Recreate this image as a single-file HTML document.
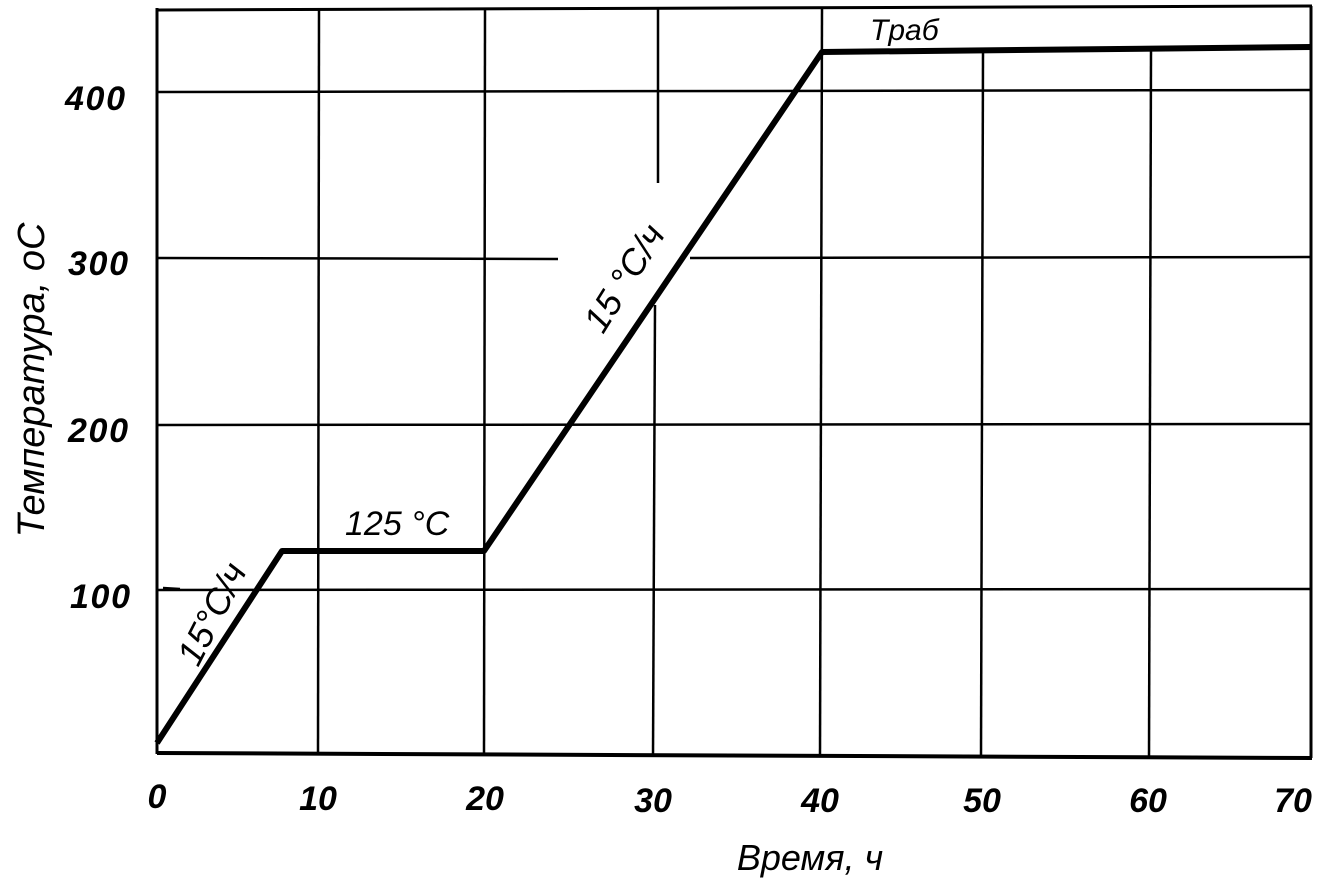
<!DOCTYPE html>
<html><head><meta charset="utf-8"><style>
html,body{margin:0;padding:0;background:#fff;}
svg{display:block;}
text{font-family:"Liberation Sans",sans-serif;font-style:italic;fill:#000;}
</style></head><body>
<svg width="1324" height="889" viewBox="0 0 1324 889" xmlns="http://www.w3.org/2000/svg">
<g stroke="#000" stroke-width="2.5" fill="none">
  <line x1="157" y1="10" x2="1312" y2="6" stroke-width="3"/>
  <line x1="157" y1="8" x2="157" y2="754" stroke-width="3"/>
  <line x1="157" y1="753" x2="1312" y2="758" stroke-width="4"/>
  <line x1="1311" y1="6" x2="1311" y2="758" stroke-width="3"/>
  <line x1="319" y1="9" x2="318" y2="754"/>
  <line x1="485" y1="9" x2="484" y2="755"/>
  <line x1="658" y1="9" x2="658" y2="183"/>
  <line x1="655" y1="305" x2="653" y2="756"/>
  <line x1="822" y1="8" x2="820" y2="756"/>
  <line x1="983" y1="52" x2="981" y2="757"/>
  <line x1="1151" y1="50" x2="1149" y2="757"/>
  <line x1="157" y1="92" x2="1311" y2="90"/>
  <line x1="157" y1="258" x2="558" y2="259"/>
  <line x1="690" y1="258" x2="1311" y2="257"/>
  <line x1="157" y1="425" x2="1311" y2="424"/>
  <line x1="157" y1="590" x2="1311" y2="589"/>
  <line x1="163" y1="588" x2="180" y2="589"/>
</g>
<polyline points="157,743 282,551 484,551 822,52 1311,47" fill="none" stroke="#000" stroke-width="6" stroke-linejoin="round"/>
<g font-size="34" font-weight="bold" stroke="#000" stroke-width="0">
  <text x="125" y="110" text-anchor="end" textLength="60">400</text>
  <text x="128" y="275" text-anchor="end" textLength="60">300</text>
  <text x="128" y="442" text-anchor="end" textLength="60">200</text>
  <text x="130" y="608" text-anchor="end" textLength="60">100</text>
  <text x="157" y="808" text-anchor="middle">0</text>
  <text x="318" y="810" text-anchor="middle">10</text>
  <text x="485" y="810" text-anchor="middle">20</text>
  <text x="653" y="812" text-anchor="middle">30</text>
  <text x="820" y="812" text-anchor="middle">40</text>
  <text x="982" y="812" text-anchor="middle">50</text>
  <text x="1148" y="812" text-anchor="middle">60</text>
  <text x="1293" y="812" text-anchor="middle">70</text>
  <text x="810" y="870" text-anchor="middle" font-weight="normal" font-size="36">Время,  ч</text>
  <text transform="translate(44,380) rotate(-90)" text-anchor="middle" font-weight="normal" font-size="38">Температура,  оС</text>
  <text x="345" y="535" font-weight="normal">125 °C</text>
  <text x="870" y="40" font-size="30" font-weight="normal">Tраб</text>
  <text transform="translate(198,668) rotate(-63)" font-weight="normal" font-size="36">15°C/ч</text>
  <text transform="translate(603,335) rotate(-58)" font-weight="normal" font-size="36">15 °C/ч</text>
</g>
</svg>
</body></html>
